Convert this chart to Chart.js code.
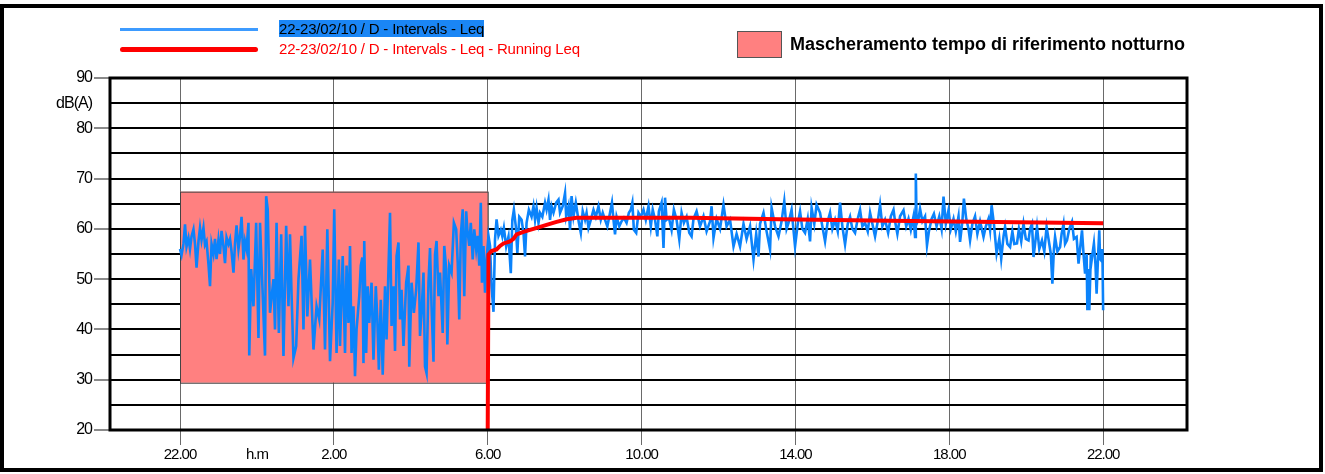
<!DOCTYPE html>
<html lang="it">
<head>
<meta charset="UTF-8">
<title>Leq 22-23/02/10</title>
<script src="https://cdn.jsdelivr.net/npm/chart.js@4.4.1/dist/chart.umd.min.js"></script>
<style>
    body {
        margin: 0;
        background: #fff;
        font-family: 'Liberation Sans', Arial, sans-serif;
    }
    .page {
        position: relative;
        width: 1325px;
        height: 474px;
        overflow: hidden;
    }
    canvas {
        position: absolute;
        left: 0;
        top: 0;
    }
    .frame {
        position: absolute;
        left: 0;
        top: 4px;
        width: 1323px;
        height: 468px;
        border: 4px solid #000;
        box-sizing: border-box;
    }
    .leg-line {
        position: absolute;
        left: 120px;
        width: 138px;
    }
    .leg-text {
        position: absolute;
        left: 279px;
        font-size: 15px;
        letter-spacing: -0.2px;
        line-height: 17px;
        white-space: nowrap;
    }
    .selected {
        background: #1a86f5;
        color: #000;
    }
    .swatch {
        position: absolute;
        left: 737px;
        top: 31px;
        width: 43px;
        height: 25px;
        background: #ff8080;
        border: 1px solid #555;
    }
    .mask-text {
        position: absolute;
        left: 790px;
        top: 33px;
        font-size: 18px;
        font-weight: bold;
        line-height: 22px;
        white-space: nowrap;
    }
</style>
</head>
<body>
<div class="page">
    <canvas id="chart" width="1325" height="474"></canvas>
    <div class="frame"></div>

    <div class="leg-line" style="top:28px;height:3px;background:#3d9bff"></div>
    <span class="leg-text selected" style="top:20px">22-23/02/10 / D - Intervals - Leq</span>
    <div class="leg-line" style="top:47px;height:5px;background:#ff0000;border-radius:3px"></div>
    <span class="leg-text" style="top:40px;color:#ff0000">22-23/02/10 / D - Intervals - Leq - Running Leq</span>

    <div class="swatch"></div>
    <span class="mask-text">Mascheramento tempo di riferimento notturno</span>
</div>

<script>
// ore trascorse dalle 22.00 -> etichette orarie
const hourTicks = [0, 2, 4, 8, 12, 16, 20, 24];
const hourLabels = ['22.00', 'h.m', '2.00', '6.00', '10.00', '14.00', '18.00', '22.00'];

const dbTicks = [20, 25, 30, 35, 40, 45, 50, 55, 60, 65, 70, 75, 80, 85, 90];
const dbLabels = ['20', '', '30', '', '40', '', '50', '', '60', '', '70', '', '80', 'dB(A)', '90'];

// mascheramento notturno: [ora inizio, ora fine, dB basso, dB alto]
const maskBox = [0, 8, 29.4, 67.4];

// Leq a intervalli: [ore dalle 22.00, dB(A)]
const leqSamples = [
    [0.00,56.0],[0.04,54.8],[0.09,57.0],[0.13,60.9],[0.17,56.5],[0.22,58.2],[0.26,56.0],[0.30,58.5],
    [0.35,59.9],[0.39,57.0],[0.43,52.3],[0.48,57.5],[0.52,60.2],[0.56,57.8],[0.61,60.2],[0.65,56.8],
    [0.69,57.5],[0.74,53.0],[0.78,48.6],[0.82,57.0],[0.87,55.0],[0.91,58.0],[0.95,54.0],[1.00,57.8],
    [1.04,55.0],[1.08,59.6],[1.13,56.5],[1.17,53.2],[1.21,58.3],[1.26,57.0],[1.30,58.0],[1.34,55.5],
    [1.39,51.3],[1.43,57.0],[1.47,60.7],[1.52,56.0],[1.56,58.5],[1.60,62.4],[1.65,53.9],[1.69,57.5],
    [1.73,56.0],[1.78,61.2],[1.80,34.8],[1.85,52.0],[1.91,44.6],[1.98,61.2],[2.04,38.3],[2.08,61.2],
    [2.14,49.0],[2.21,34.8],[2.24,66.5],[2.28,63.9],[2.34,43.3],[2.43,50.0],[2.47,40.0],[2.51,61.2],
    [2.57,39.3],[2.63,58.9],[2.69,34.7],[2.76,60.6],[2.82,44.6],[2.86,58.9],[2.90,47.0],[2.95,34.3],
    [3.02,36.7],[3.08,50.0],[3.16,58.6],[3.21,40.0],[3.25,60.6],[3.31,42.6],[3.38,53.9],[3.47,36.0],
    [3.55,44.6],[3.62,42.0],[3.71,55.9],[3.77,36.0],[3.83,59.9],[3.90,33.7],[3.97,45.3],[4.01,63.9],
    [4.07,35.3],[4.13,53.9],[4.16,36.7],[4.23,54.6],[4.29,35.3],[4.33,52.7],[4.38,41.3],[4.42,56.6],
    [4.46,35.3],[4.51,44.6],[4.55,30.7],[4.59,40.0],[4.66,46.6],[4.70,52.7],[4.74,54.3],[4.77,33.3],
    [4.79,57.6],[4.84,35.3],[4.88,48.6],[4.92,41.3],[4.98,49.3],[5.03,34.0],[5.09,48.6],[5.13,42.0],
    [5.17,32.0],[5.22,45.9],[5.27,31.0],[5.33,48.6],[5.37,38.0],[5.42,52.0],[5.46,63.2],[5.50,40.7],
    [5.55,48.6],[5.59,35.7],[5.63,54.6],[5.68,57.3],[5.72,42.0],[5.76,47.9],[5.81,36.7],[5.88,49.3],
    [5.94,52.7],[5.96,32.6],[6.02,49.3],[6.08,43.3],[6.14,47.9],[6.20,57.3],[6.24,38.7],[6.28,43.3],
    [6.33,51.3],[6.37,32.6],[6.41,31.3],[6.46,49.3],[6.50,56.2],[6.54,44.6],[6.59,33.6],[6.63,54.9],
    [6.67,57.6],[6.72,46.6],[6.76,51.3],[6.83,39.3],[6.87,56.6],[6.92,52.0],[6.95,37.0],[7.00,52.7],
    [7.06,51.3],[7.12,61.2],[7.18,59.9],[7.22,53.3],[7.26,42.0],[7.30,58.6],[7.35,63.9],[7.39,46.6],
    [7.44,63.5],[7.47,59.9],[7.52,56.6],[7.56,61.2],[7.61,53.9],[7.65,59.9],[7.70,55.9],[7.74,58.6],
    [7.78,52.7],[7.82,65.2],[7.85,49.3],[7.89,56.6],[7.93,47.3],[7.97,53.9],[8.02,58.6],[8.06,56.6],
    [8.10,48.6],[8.15,43.5],[8.19,57.9],[8.23,61.9],[8.28,58.6],[8.34,59.8],[8.38,58.5],[8.42,60.2],
    [8.48,56.5],[8.54,58.5],[8.60,51.2],[8.64,61.8],[8.68,63.8],[8.73,60.5],[8.77,55.2],[8.82,62.4],
    [8.88,61.8],[8.93,59.2],[8.97,54.5],[9.01,61.2],[9.07,63.8],[9.14,62.4],[9.19,64.5],[9.23,61.8],
    [9.27,64.2],[9.32,61.2],[9.36,63.2],[9.42,62.4],[9.49,65.2],[9.53,63.8],[9.58,65.8],[9.62,61.8],
    [9.66,64.5],[9.71,63.2],[9.78,65.2],[9.84,65.8],[9.88,63.2],[9.95,64.5],[10.01,67.1],[10.04,62.5],
    [10.10,64.5],[10.14,59.8],[10.18,66.5],[10.23,62.5],[10.29,65.2],[10.33,63.2],[10.37,61.2],[10.42,59.2],
    [10.47,63.5],[10.53,61.8],[10.57,63.2],[10.62,60.2],[10.68,61.8],[10.75,63.8],[10.81,62.4],[10.88,64.5],
    [10.94,61.8],[10.99,63.2],[11.05,61.8],[11.11,60.5],[11.16,62.4],[11.23,65.2],[11.27,61.8],[11.31,58.9],
    [11.35,62.4],[11.42,60.5],[11.48,61.5],[11.54,62.2],[11.61,61.2],[11.67,63.2],[11.72,63.8],[11.76,65.2],
    [11.80,59.8],[11.86,59.2],[11.92,63.2],[11.98,62.4],[12.05,63.8],[12.11,61.8],[12.18,64.5],[12.24,60.5],
    [12.29,63.8],[12.35,61.8],[12.41,58.5],[12.45,63.5],[12.52,65.2],[12.57,56.2],[12.61,66.2],[12.65,61.8],
    [12.71,62.2],[12.78,59.8],[12.84,63.8],[12.91,61.8],[12.98,57.9],[13.04,63.2],[13.10,61.2],[13.17,62.4],
    [13.24,59.2],[13.30,58.5],[13.35,62.0],[13.43,63.5],[13.52,60.5],[13.61,62.5],[13.69,59.5],[13.78,61.5],
    [13.82,64.5],[13.87,58.2],[13.95,62.0],[14.04,60.0],[14.13,64.8],[14.21,60.5],[14.30,61.8],[14.39,56.5],
    [14.47,59.0],[14.56,56.5],[14.65,61.0],[14.73,58.0],[14.82,60.5],[14.91,53.9],[14.98,59.0],[15.04,54.5],
    [15.08,61.0],[15.17,63.2],[15.25,59.5],[15.34,55.9],[15.38,64.2],[15.47,60.5],[15.56,58.5],[15.64,61.5],
    [15.71,65.5],[15.77,60.0],[15.82,61.2],[15.90,63.8],[15.99,56.5],[16.06,61.0],[16.12,63.5],[16.18,60.0],
    [16.25,59.2],[16.32,62.0],[16.38,57.5],[16.42,64.2],[16.49,61.0],[16.55,64.8],[16.64,63.2],[16.70,60.5],
    [16.77,57.5],[16.84,61.5],[16.90,63.2],[16.96,60.0],[17.03,61.8],[17.10,59.5],[17.16,65.2],[17.22,60.5],
    [17.29,56.9],[17.36,61.0],[17.42,62.4],[17.48,60.0],[17.55,59.2],[17.62,62.0],[17.68,63.8],[17.74,60.5],
    [17.81,61.2],[17.88,59.5],[17.94,63.2],[18.00,61.0],[18.07,58.5],[18.14,61.5],[18.20,64.8],[18.26,60.5],
    [18.33,61.8],[18.41,59.2],[18.48,62.5],[18.55,63.8],[18.59,61.5],[18.65,59.0],[18.72,62.5],[18.81,63.7],
    [18.88,60.5],[18.94,62.0],[19.00,59.8],[19.07,62.5],[19.11,58.4],[19.13,71.0],[19.15,61.0],[19.20,62.0],
    [19.24,64.0],[19.30,61.5],[19.37,62.5],[19.42,56.7],[19.47,59.5],[19.54,62.0],[19.60,63.0],[19.67,60.5],
    [19.74,62.5],[19.80,60.0],[19.85,66.4],[19.91,61.0],[19.98,63.7],[20.04,60.0],[20.11,62.0],[20.17,59.5],
    [20.24,62.5],[20.28,57.4],[20.34,61.5],[20.38,66.0],[20.44,62.0],[20.50,60.0],[20.54,57.7],[20.60,61.0],
    [20.67,62.5],[20.73,59.0],[20.80,61.5],[20.89,58.4],[20.95,60.5],[21.02,62.0],[21.06,59.8],[21.10,64.7],
    [21.16,61.0],[21.23,55.1],[21.30,58.0],[21.35,54.1],[21.41,58.5],[21.45,60.4],[21.51,57.0],[21.58,56.4],
    [21.64,59.5],[21.69,57.0],[21.76,57.1],[21.81,60.0],[21.87,57.5],[21.93,61.0],[21.99,58.0],[22.06,57.7],
    [22.10,60.0],[22.15,61.0],[22.19,54.4],[22.23,57.0],[22.28,60.4],[22.34,56.0],[22.41,57.7],[22.47,55.5],
    [22.53,60.4],[22.60,57.0],[22.64,55.0],[22.68,49.1],[22.72,56.0],[22.75,58.4],[22.81,55.5],[22.88,56.4],
    [22.92,59.0],[22.97,61.0],[23.01,57.0],[23.06,57.7],[23.12,60.0],[23.19,61.4],[23.24,58.0],[23.31,58.4],
    [23.36,53.1],[23.40,56.0],[23.45,59.7],[23.49,55.0],[23.53,51.1],[23.57,55.0],[23.59,43.8],[23.62,52.0],
    [23.64,43.8],[23.68,55.0],[23.70,53.7],[23.76,57.1],[23.80,53.0],[23.83,47.1],[23.87,55.0],[23.90,59.7],
    [23.92,54.0],[23.95,53.7],[23.98,56.0],[24.00,43.8]
];

// Running Leq (dalle 6.00)
const runningLeq = [
    [8.00,20.0],[8.02,54.9],[8.10,55.6],[8.23,55.9],[8.32,56.6],[8.41,57.1],[8.58,57.5],[8.67,58.0],
    [8.75,58.9],[8.93,59.4],[9.10,59.8],[9.32,60.3],[9.53,60.8],[9.79,61.4],[10.05,61.9],[10.31,62.2],
    [10.66,62.2],[13.26,62.2],[15.60,61.9],[18.46,61.6],[24.00,61.1]
];

const toXY = arr => arr.map(p => ({ x: p[0], y: p[1] }));

// rettangolo rosa del mascheramento, sopra la griglia e sotto le linee
const maskPlugin = {
    id: 'mask',
    beforeDatasetsDraw(chart) {
        const { ctx, scales: { x, y } } = chart;
        const x0 = x.getPixelForValue(maskBox[0]);
        const x1 = x.getPixelForValue(maskBox[1]);
        const y0 = y.getPixelForValue(maskBox[3]);
        const y1 = y.getPixelForValue(maskBox[2]);
        ctx.save();
        ctx.fillStyle = '#ff8080';
        ctx.fillRect(x0, y0, x1 - x0, y1 - y0);
        ctx.strokeStyle = '#444';
        ctx.lineWidth = 1;
        ctx.strokeRect(x0 + 0.5, y0 + 0.5, x1 - x0, y1 - y0);
        ctx.restore();
    }
};

// cornice spessa dell'area del grafico
const framePlugin = {
    id: 'frame',
    beforeDraw(chart) {
        chart.ctx.letterSpacing = '-1px';
    },
    afterDraw(chart) {
        const { ctx, chartArea: a } = chart;
        ctx.save();
        ctx.strokeStyle = '#000';
        ctx.lineWidth = 3;
        ctx.strokeRect(a.left, a.top, a.right - a.left, a.bottom - a.top);
        ctx.restore();
    }
};

new Chart(document.getElementById('chart'), {
    type: 'scatter',
    data: {
        datasets: [
            {
                label: '22-23/02/10 / D - Intervals - Leq - Running Leq',
                data: toXY(runningLeq),
                showLine: true,
                borderColor: '#ff0000',
                borderWidth: 4,
                pointRadius: 0,
                order: 0
            },
            {
                label: '22-23/02/10 / D - Intervals - Leq',
                data: toXY(leqSamples),
                showLine: true,
                borderColor: '#0b83fb',
                borderWidth: 2.6,
                pointRadius: 0,
                order: 1
            }
        ]
    },
    options: {
        responsive: false,
        animation: false,
        devicePixelRatio: 1,
        layout: { padding: { left: 0, top: 78, right: 138, bottom: 8 } },
        plugins: {
            legend: { display: false },
            tooltip: { enabled: false }
        },
        scales: {
            x: {
                type: 'linear',
                min: -1.82,
                max: 26.18,
                afterBuildTicks: s => { s.ticks = hourTicks.map(v => ({ value: v })); },
                afterFit: s => { s.height = 36; },
                border: { display: false },
                grid: {
                    color: c => (c.tick && c.tick.value === 2) ? 'rgba(0,0,0,0)' : '#6a6a6a',
                    lineWidth: 1,
                    tickLength: 15
                },
                ticks: {
                    callback: (v, i) => hourLabels[i],
                    color: '#000',
                    font: { family: "'Liberation Sans', Arial, sans-serif", size: 15 },
                    maxRotation: 0,
                    autoSkip: false,
                    padding: 1
                }
            },
            y: {
                min: 20,
                max: 90,
                afterBuildTicks: s => { s.ticks = dbTicks.map(v => ({ value: v })); },
                afterFit: s => { s.width = 110; },
                border: { display: false },
                grid: {
                    color: '#000',
                    lineWidth: 2,
                    tickLength: 16,
                    tickWidth: 2,
                    tickColor: c => (c.tick && c.tick.value % 10 === 0) ? '#8a8a8a' : 'rgba(0,0,0,0)'
                },
                ticks: {
                    callback: (v, i) => dbLabels[i],
                    color: '#000',
                    font: { family: "'Liberation Sans', Arial, sans-serif", size: 16 },
                    padding: 2
                }
            }
        }
    },
    plugins: [maskPlugin, framePlugin]
});
</script>
</body>
</html>
